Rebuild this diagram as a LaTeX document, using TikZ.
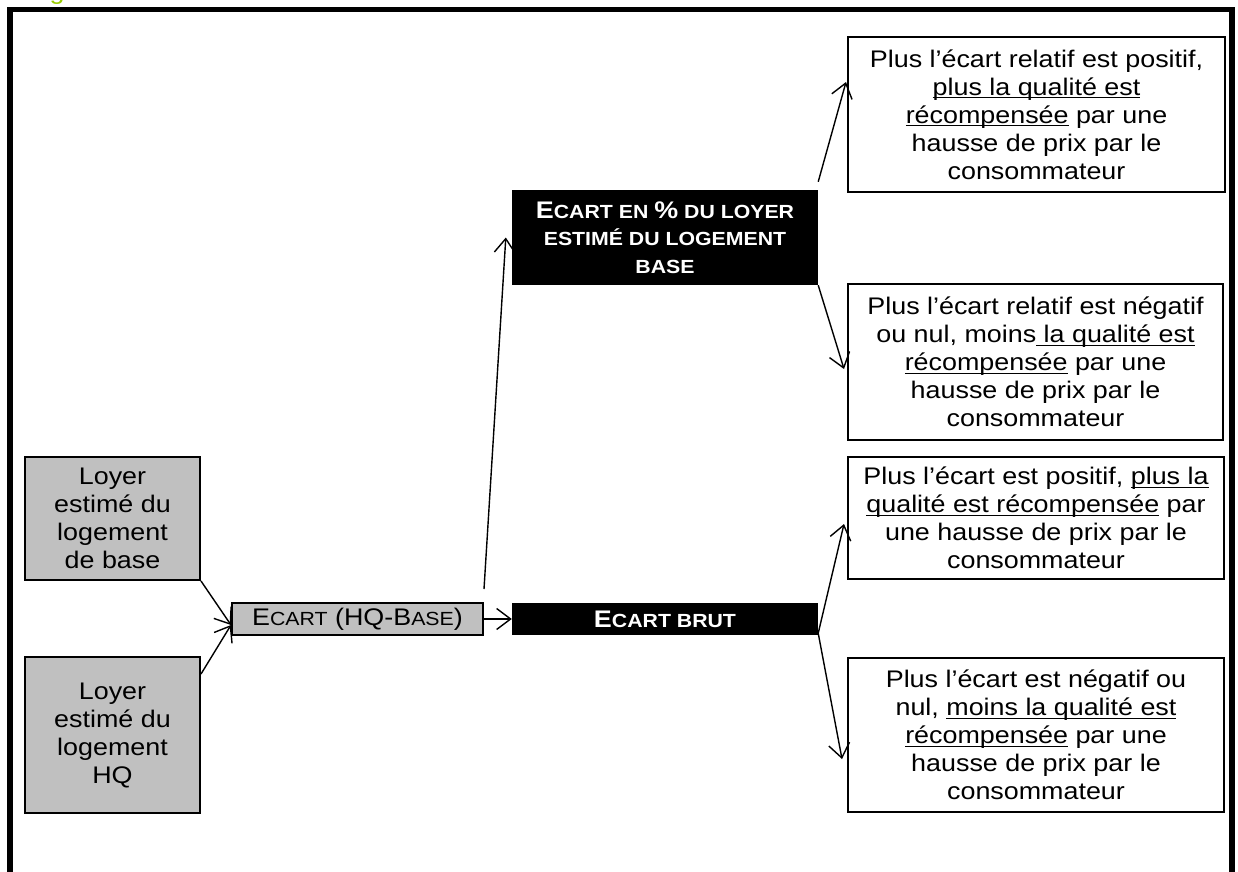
\documentclass[tikz,border=0pt]{standalone}
\usepackage{fontspec}
\setmainfont{Liberation Sans}[FakeStretch=1.12]
\usetikzlibrary{arrows.meta,calc}

% small-caps look: capitals at full size, the rest reduced
\newcommand{\scfull}[1]{{\fontsize{24pt}{28pt}\selectfont #1}}
\newcommand{\scsmall}[1]{{\fontsize{19pt}{28pt}\selectfont #1}}
% underline set just below the baseline
\newcommand{\ul}[1]{\begingroup\setbox0\hbox{#1}\rlap{\rule[-3.2pt]{\wd0}{1.4pt}}\box0\endgroup}

\definecolor{boxgray}{RGB}{192,192,192}
\definecolor{capgreen}{RGB}{153,204,0}

\tikzset{
  txt/.style={font=\fontsize{24pt}{28pt}\selectfont, align=center, inner sep=0pt},
  infobox/.style={txt, draw, line width=2pt, fill=white},
  graybox/.style={txt, draw, line width=2pt, fill=boxgray},
  darkbox/.style={txt, fill=black, text=white, font=\fontsize{24pt}{27.5pt}\selectfont\bfseries},
  link/.style={line width=1.4pt, -{Straight Barb[length=14pt,width=21pt,line width=1.4pt]}},
}

\begin{document}
\begin{tikzpicture}[x=1pt,y=-1pt]
\useasboundingbox (0,0) rectangle (1238,871);

% caption fragment above the frame
\node[anchor=base, text=capgreen, font=\fontsize{24pt}{28pt}\selectfont, inner sep=0pt] (cap) at (57,-1) {g};

% frame
\draw[line width=5.5pt] (10,880) -- (10,9.5) -- (1232,9.5) -- (1232,880);

% inputs
\node[graybox, minimum width=175pt, minimum height=123pt] (base) at (112.5,518.5)
  {Loyer\\estimé du\\logement\\de base};
\node[graybox, minimum width=175pt, minimum height=156pt] (hq) at (112.5,735)
  {Loyer\\estimé du\\logement\\HQ};

% difference
\node[graybox, minimum width=251pt, minimum height=32pt] (ecart) at (357.5,619)
  {\scfull{E}\scsmall{CART}\scfull{ (HQ-B}\scsmall{ASE}\scfull{)}};

% the two measures
\node[darkbox, minimum width=306pt, minimum height=95pt] (rel) at (665,237.5)
  {\scfull{E}\scsmall{CART EN }\scfull{\%}\scsmall{ DU LOYER}\\
   \scsmall{ESTIMÉ DU LOGEMENT}\\
   \scsmall{BASE}};
\node[darkbox, minimum width=306pt, minimum height=32pt] (brut) at (665,619)
  {\scfull{E}\scsmall{CART BRUT}};

% interpretations
\node[infobox, minimum width=377pt, minimum height=155pt] (r1) at (1036.5,114.5)
  {Plus l’écart relatif est positif,\\
   \ul{plus la qualité est}\\
   \ul{récompensée} par une\\
   hausse de prix par le\\
   consommateur};
\node[infobox, minimum width=375pt, minimum height=156pt] (r2) at (1035.5,362)
  {Plus l’écart relatif est négatif\\
   ou nul, moins\ul{ la qualité est}\\
   \ul{récompensée} par une\\
   hausse de prix par le\\
   consommateur};
\node[infobox, minimum width=376pt, minimum height=122pt] (r3) at (1036,518)
  {Plus l’écart est positif, \ul{plus la}\\
   \ul{qualité est récompensée} par\\
   une hausse de prix par le\\
   consommateur};
\node[infobox, minimum width=376pt, minimum height=154pt] (r4) at (1036,735)
  {Plus l’écart est négatif ou\\
   nul, \ul{moins la qualité est}\\
   \ul{récompensée} par une\\
   hausse de prix par le\\
   consommateur};

% connector end points
\coordinate (join) at ([yshift=-6pt]ecart.west);
\coordinate (hqout) at ([yshift=-18pt]hq.north east);
\coordinate (up) at ([yshift=13pt]ecart.north east);
\coordinate (relin) at ([xshift=-6pt]rel.west);
\coordinate (relup) at ([yshift=8pt]rel.north east);
\coordinate (r1in) at ([xshift=-1pt,yshift=-46pt]r1.north west);
\coordinate (r2in) at ([xshift=-3pt,yshift=-86pt]r2.north west);
\coordinate (r3in) at ([xshift=-3pt,yshift=-68pt]r3.north west);
\coordinate (r4in) at ([xshift=-5pt,yshift=-102pt]r4.north west);
\coordinate (brutout) at ([yshift=2pt]brut.south east);

% connectors
\draw[link] (base.south east) -- (join);
\draw[link] (hqout) -- (join);
\draw[link] (ecart.east) -- (brut.west);
\draw[link] (up) -- (relin);
\draw[link] (relup) -- (r1in);
\draw[link] (rel.south east) -- (r2in);
\draw[link] (brutout) -- (r3in);
\draw[link] (brutout) -- (r4in);
\end{tikzpicture}
\end{document}
